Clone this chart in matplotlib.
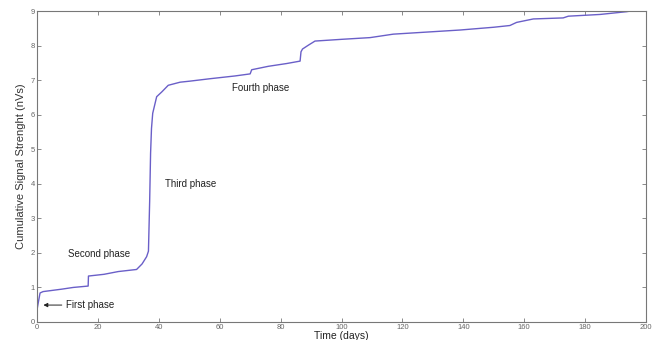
#!/usr/bin/env python3
"""Cumulative signal strength vs time, with the four phases annotated."""

import matplotlib
matplotlib.use("Agg")
import matplotlib.pyplot as plt

# valeurs (jours, nVs)
days = [0, 0.5, 1.0, 2.0, 8.1, 11.9, 16.8, 16.9, 22, 26.7, 32.7, 34.5,
        36.0, 36.6, 37.0, 37.3, 37.6, 38.0, 39.3, 41.0, 43.1, 47.0, 50.2,
        56.8, 65, 70.0, 70.5, 76, 82, 86.4, 86.7, 87.2, 89.1, 91.3, 100,
        109.4, 117, 128, 139, 150, 155.3, 157.5, 163, 172.8, 174.5, 184.9,
        193.6, 195]
signal = [0.35, 0.6, 0.84, 0.88, 0.95, 1.0, 1.04, 1.33, 1.38, 1.46, 1.52,
          1.68, 1.89, 2.05, 3.5, 4.88, 5.6, 6.04, 6.52, 6.66, 6.85, 6.94,
          6.97, 7.04, 7.12, 7.18, 7.3, 7.4, 7.48, 7.55, 7.82, 7.9, 8.01,
          8.13, 8.18, 8.23, 8.33, 8.39, 8.45, 8.53, 8.58, 8.67, 8.77, 8.8,
          8.85, 8.9, 8.98, 9.0]

x_ticks = list(range(0, 201, 20))
y_ticks = list(range(0, 10))

# étiquettes de phase et leur position (jour, valeur)
phase_labels = ["Second phase", "Third phase", "Fourth phase"]
phase_x = [10.1, 42.0, 63.9]
phase_y = [1.97, 3.99, 6.78]

plt.rcParams["font.family"] = ["Liberation Sans", "DejaVu Sans"]

fig = plt.figure(figsize=(6.54, 3.4), dpi=100)
ax = fig.add_axes([37 / 654, 18 / 340, 609 / 654, 311 / 340])

ax.plot(days, signal, color="#6a5fc8", linewidth=1.0)

ax.set_xlim(0, 200)
ax.set_ylim(0, 9)
ax.set_xticks(x_ticks)
ax.set_yticks(y_ticks)
ax.tick_params(direction="in", length=3, width=0.6, top=True, right=True,
               labelsize=5.5, labelcolor="#666666", color="#777777", pad=1.5)
for sp in ax.spines.values():
    sp.set_color("#777777")
    sp.set_linewidth(0.8)

ax.set_xlabel("Time (days)", fontsize=7.5, color="#222222", labelpad=0)
ax.set_ylabel("Cumulative Signal Strenght (nVs)", fontsize=8,
              color="#333333", labelpad=3)

for txt, x, y in zip(phase_labels, phase_x, phase_y):
    ax.text(x, y, txt, fontsize=7, color="#222222", ha="left", va="center")

ax.annotate("First phase", xy=(2.1, 0.49), xytext=(9.5, 0.49),
            fontsize=7, color="#222222", ha="left", va="center",
            arrowprops=dict(arrowstyle="-|>", color="#222222", lw=0.7,
                            mutation_scale=6, shrinkA=1, shrinkB=0))

fig.savefig("out.png", dpi=100)
